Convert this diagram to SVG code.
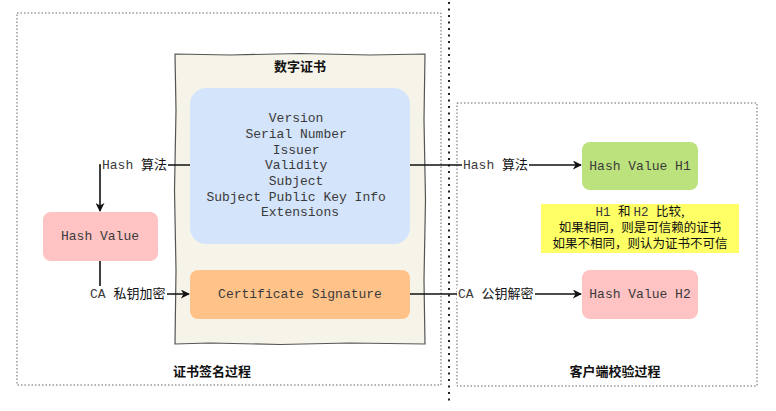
<svg xmlns="http://www.w3.org/2000/svg" width="776" height="411" viewBox="0 0 776 411">
<defs>
<style>
.mono{font-family:"Liberation Mono","Courier New",monospace;font-size:13px;fill:#3a3a3a;}
.cjk{font-family:"Noto Sans CJK SC","Noto Sans",sans-serif;font-size:13px;fill:#111;}
.note{font-family:"Noto Sans CJK SC","Noto Sans",sans-serif;font-size:12.5px;fill:#111;}
.notem{font-family:"Liberation Mono","Courier New",monospace;font-size:12.5px;fill:#3a3a3a;}
.bold{font-family:"Noto Sans CJK SC","Noto Sans",sans-serif;font-size:13px;font-weight:bold;fill:#111;}
.frame{fill:none;stroke:#666;stroke-width:1;stroke-dasharray:1.5 2;}
.edge{fill:none;stroke:#111;stroke-width:1.6;}
.lbl{fill:#fff;}
</style>
<marker id="arr" viewBox="0 0 10 10" refX="9" refY="5" markerWidth="9" markerHeight="9" markerUnits="userSpaceOnUse" orient="auto">
<path d="M0,0 L10,5 L0,10 L3,5 Z" fill="#111"/>
</marker>
</defs>
<rect width="776" height="411" fill="#fff"/>

<g id="frames">
<rect class="frame" x="17" y="13" width="424" height="372"/>
<rect class="frame" x="457" y="103" width="300" height="283"/>
<line x1="449" y1="2" x2="449" y2="404" stroke="#222" stroke-width="2" stroke-dasharray="2 4.5"/>
<text class="bold" x="212" y="376" text-anchor="middle">证书签名过程</text>
<text class="bold" x="615" y="376" text-anchor="middle">客户端校验过程</text>
</g>

<g id="certificate">
<path d="M175,54 L230,55 L300,53.5 L370,55 L425,54 L424,120 L425.5,200 L424,280 L425,344 L350,343 L280,344.5 L210,343 L175,344 L176,270 L174.5,190 L176,110 Z" fill="#f6f4e8" stroke="#555" stroke-width="1.2"/>
<text class="bold" x="300" y="71" text-anchor="middle">数字证书</text>
</g>

<g id="fields">
<rect x="190" y="88" width="220" height="156" rx="16" fill="#d4e4fb"/>
<text class="mono" text-anchor="middle" x="300">
<tspan x="300" y="122">Version</tspan>
<tspan x="300" y="138">Serial Number</tspan>
<tspan x="300" y="154">Issuer</tspan>
<tspan x="300" y="169">Validity</tspan>
<tspan x="300" y="185">Subject</tspan>
<tspan x="300" y="201">Subject Public Key Info</tspan>
<tspan x="300" y="216">Extensions</tspan>
</text>
</g>

<g id="signature">
<rect x="190" y="270" width="220" height="49" rx="8" fill="#ffc38a"/>
<text class="mono" x="300" y="298" text-anchor="middle">Certificate Signature</text>
</g>

<g id="hashvalue">
<rect x="43" y="212" width="115" height="49" rx="8" fill="#ffc3c3"/>
<text class="mono" x="100" y="240" text-anchor="middle">Hash Value</text>
</g>

<g id="h1">
<rect x="582" y="142" width="116" height="48" rx="8" fill="#bce27d"/>
<text class="mono" x="640" y="170" text-anchor="middle">Hash Value H1</text>
</g>

<g id="h2">
<rect x="582" y="270" width="116" height="49" rx="8" fill="#ffc3c3"/>
<text class="mono" x="640" y="298" text-anchor="middle">Hash Value H2</text>
</g>

<g id="note">
<rect x="541" y="204" width="198" height="49" fill="#ffff66"/>
<text x="640" y="216" text-anchor="middle"><tspan class="notem">H1 </tspan><tspan class="note">和 </tspan><tspan class="notem">H2 </tspan><tspan class="note">比较,</tspan></text>
<text class="note" x="640" y="232" text-anchor="middle">如果相同，则是可信赖的证书</text>
<text class="note" x="640" y="247.5" text-anchor="middle">如果不相同，则认为证书不可信</text>
</g>

<g id="connectors">
<path class="edge" d="M190,165 L100,165 L100,211" marker-end="url(#arr)"/>
<path class="edge" d="M100,261 L100,294 L189,294" marker-end="url(#arr)"/>
<path class="edge" d="M410,165 L581,165" marker-end="url(#arr)"/>
<path class="edge" d="M410,294 L581,294" marker-end="url(#arr)"/>
<rect class="lbl" x="101" y="157" width="67" height="16"/>
<text x="102" y="169"><tspan class="mono">Hash </tspan><tspan class="cjk">算法</tspan></text>
<rect class="lbl" x="88" y="286" width="79" height="16"/>
<text x="90" y="298"><tspan class="mono">CA </tspan><tspan class="cjk">私钥加密</tspan></text>
<rect class="lbl" x="462" y="157" width="67" height="16"/>
<text x="463" y="169"><tspan class="mono">Hash </tspan><tspan class="cjk">算法</tspan></text>
<rect class="lbl" x="457" y="286" width="78" height="16"/>
<text x="458" y="298"><tspan class="mono">CA </tspan><tspan class="cjk">公钥解密</tspan></text>
</g>
</svg>
